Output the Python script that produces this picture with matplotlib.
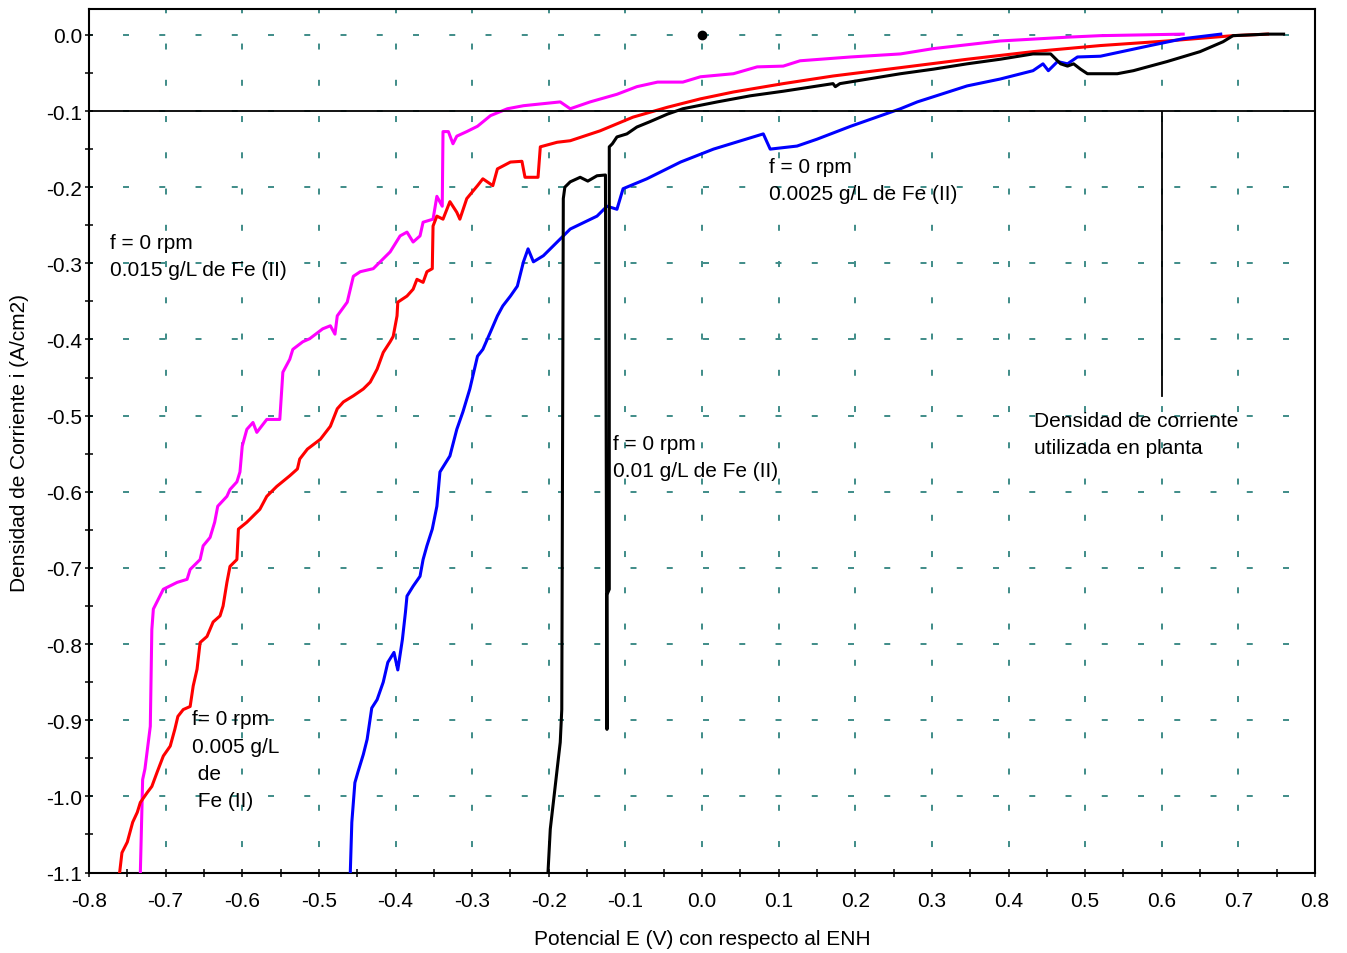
import matplotlib
matplotlib.use("Agg")
import matplotlib.pyplot as plt
from matplotlib.ticker import MultipleLocator, FormatStrFormatter

plt.rcParams['font.family'] = ['Liberation Sans', 'DejaVu Sans']
plt.rcParams['axes.unicode_minus'] = False
plt.rcParams['lines.scale_dashes'] = False

# ---------------- data (E in V vs ENH, i in A/cm2) ----------------
magenta_E = [-0.733, -0.730, -0.727, -0.720, -0.718, -0.716, -0.703, -0.685, -0.672, -0.668,
             -0.655, -0.651, -0.642, -0.636, -0.632, -0.620, -0.616, -0.607, -0.603, -0.600,
             -0.594, -0.586, -0.581, -0.568, -0.551, -0.547, -0.538, -0.534, -0.521, -0.512,
             -0.495, -0.485, -0.479, -0.476, -0.463, -0.455, -0.446, -0.429, -0.420, -0.407,
             -0.394, -0.385, -0.377, -0.368, -0.364, -0.351, -0.346, -0.339, -0.338, -0.331,
             -0.325, -0.320, -0.307, -0.293, -0.276, -0.254, -0.233, -0.185, -0.172, -0.146,
             -0.111, -0.085, -0.058, -0.025, -0.002, 0.041, 0.072, 0.106, 0.128, 0.194,
             0.259, 0.302, 0.389, 0.477, 0.520, 0.628]
magenta_i = [-1.100, -0.978, -0.964, -0.908, -0.781, -0.754, -0.728, -0.719, -0.715, -0.702,
             -0.689, -0.671, -0.660, -0.640, -0.619, -0.606, -0.597, -0.587, -0.574, -0.540,
             -0.518, -0.509, -0.522, -0.505, -0.505, -0.443, -0.426, -0.413, -0.403, -0.399,
             -0.386, -0.382, -0.393, -0.369, -0.351, -0.317, -0.311, -0.307, -0.298, -0.285,
             -0.264, -0.259, -0.272, -0.264, -0.246, -0.242, -0.212, -0.225, -0.127, -0.127,
             -0.143, -0.133, -0.127, -0.120, -0.106, -0.097, -0.093, -0.088, -0.097, -0.088,
             -0.078, -0.068, -0.062, -0.062, -0.055, -0.051, -0.042, -0.041, -0.034, -0.029,
             -0.025, -0.018, -0.008, -0.003, -0.001, 0.001]

red_E = [-0.760, -0.757, -0.750, -0.743, -0.737, -0.733, -0.724, -0.718, -0.711, -0.703,
         -0.694, -0.688, -0.684, -0.677, -0.668, -0.664, -0.659, -0.655, -0.646, -0.638,
         -0.629, -0.625, -0.620, -0.616, -0.607, -0.605, -0.594, -0.586, -0.577, -0.568,
         -0.555, -0.538, -0.528, -0.525, -0.515, -0.498, -0.485, -0.476, -0.468, -0.455,
         -0.442, -0.433, -0.424, -0.416, -0.407, -0.403, -0.398, -0.397, -0.385, -0.377,
         -0.372, -0.364, -0.359, -0.352, -0.351, -0.346, -0.338, -0.329, -0.320, -0.316,
         -0.307, -0.293, -0.286, -0.273, -0.267, -0.250, -0.235, -0.231, -0.214, -0.211,
         -0.189, -0.172, -0.133, -0.090, -0.045, -0.002, 0.041, 0.106, 0.171, 0.259,
         0.346, 0.432, 0.520, 0.607, 0.693, 0.738]
red_i = [-1.100, -1.074, -1.060, -1.034, -1.021, -1.008, -0.995, -0.987, -0.968, -0.947,
         -0.934, -0.912, -0.895, -0.886, -0.882, -0.855, -0.833, -0.798, -0.790, -0.771,
         -0.763, -0.750, -0.719, -0.698, -0.689, -0.649, -0.640, -0.632, -0.623, -0.606,
         -0.593, -0.579, -0.570, -0.557, -0.544, -0.531, -0.514, -0.491, -0.482, -0.474,
         -0.465, -0.456, -0.439, -0.417, -0.403, -0.396, -0.369, -0.351, -0.343, -0.334,
         -0.321, -0.325, -0.311, -0.307, -0.251, -0.238, -0.242, -0.219, -0.233, -0.242,
         -0.215, -0.198, -0.189, -0.198, -0.176, -0.167, -0.166, -0.187, -0.187, -0.147,
         -0.141, -0.139, -0.126, -0.108, -0.095, -0.084, -0.075, -0.064, -0.054, -0.043,
         -0.032, -0.022, -0.014, -0.008, -0.001, 0.001]

blue_E = [-0.459, -0.457, -0.453, -0.449, -0.442, -0.437, -0.431, -0.424, -0.416, -0.410,
          -0.402, -0.397, -0.391, -0.387, -0.385, -0.377, -0.368, -0.364, -0.359, -0.352,
          -0.346, -0.342, -0.329, -0.320, -0.312, -0.303, -0.293, -0.286, -0.276, -0.267,
          -0.260, -0.250, -0.241, -0.233, -0.227, -0.220, -0.207, -0.189, -0.172, -0.137,
          -0.124, -0.111, -0.103, -0.072, -0.028, 0.015, 0.080, 0.089, 0.124, 0.150,
          0.194, 0.259, 0.281, 0.346, 0.389, 0.432, 0.445, 0.452, 0.464, 0.477,
          0.490, 0.520, 0.585, 0.628, 0.677]
blue_i = [-1.100, -1.034, -0.982, -0.968, -0.945, -0.925, -0.884, -0.873, -0.850, -0.824,
          -0.811, -0.834, -0.794, -0.758, -0.737, -0.724, -0.711, -0.689, -0.671, -0.649,
          -0.619, -0.574, -0.553, -0.518, -0.495, -0.465, -0.422, -0.413, -0.390, -0.369,
          -0.356, -0.343, -0.330, -0.298, -0.281, -0.298, -0.290, -0.272, -0.255, -0.238,
          -0.225, -0.229, -0.202, -0.189, -0.167, -0.150, -0.130, -0.150, -0.146, -0.137,
          -0.120, -0.097, -0.088, -0.067, -0.058, -0.047, -0.038, -0.047, -0.035, -0.038,
          -0.029, -0.028, -0.014, -0.005, 0.001]

black_E = [-0.201, -0.198, -0.194, -0.189, -0.185, -0.183, -0.181, -0.179, -0.172, -0.159,
           -0.149, -0.137, -0.126, -0.124, -0.124, -0.121, -0.121, -0.117, -0.111, -0.098,
           -0.085, -0.068, -0.045, -0.025, 0.020, 0.063, 0.106, 0.171, 0.174, 0.180,
           0.259, 0.302, 0.346, 0.389, 0.432, 0.455, 0.459, 0.468, 0.477, 0.485,
           0.494, 0.503, 0.542, 0.563, 0.607, 0.650, 0.680, 0.693, 0.738, 0.759]
black_i = [-1.100, -1.043, -1.008, -0.964, -0.929, -0.886, -0.215, -0.200, -0.193, -0.187,
           -0.192, -0.185, -0.184, -0.912, -0.735, -0.728, -0.147, -0.143, -0.134, -0.130,
           -0.121, -0.114, -0.104, -0.097, -0.088, -0.080, -0.074, -0.064, -0.068, -0.064,
           -0.051, -0.045, -0.038, -0.032, -0.025, -0.025, -0.029, -0.038, -0.041, -0.038,
           -0.045, -0.051, -0.051, -0.047, -0.035, -0.022, -0.009, -0.001, 0.001, 0.001]

plant_current = -0.1          # horizontal reference line
plant_marker_E = 0.6          # vertical marker line
plant_marker_i = [-0.101, -0.474]
dot_E, dot_i = 0.0, 0.0

labels = [
    (-0.7726, -0.2904, "f = 0 rpm\n0.015 g/L de Fe (II)"),
    (-0.6655, -0.952, "f= 0 rpm\n0.005 g/L\n de\n Fe (II)"),
    (-0.116, -0.5545, "f = 0 rpm\n0.01 g/L de Fe (II)"),
    (0.0875, -0.1905, "f = 0 rpm\n0.0025 g/L de Fe (II)"),
    (0.4337, -0.524, "Densidad de corriente\nutilizada en planta"),
]

# ---------------- figure ----------------
fig = plt.figure(figsize=(13.47, 9.54), dpi=100)
ax = fig.add_axes([89/1347, 1 - 873.5/954, (1315-89)/1347, (873.5-10)/954])

ax.set_xlim(-0.8, 0.8)
ax.set_ylim(-1.1, 0.034)

gcol = '#3f8c88'
ax.xaxis.grid(True, which='major', color=gcol, linewidth=1.4, linestyle=(7.4, (4.3, 21.8)))
ax.yaxis.grid(True, which='major', color=gcol, linewidth=1.4, linestyle=(1.6, (4.3, 21.8)))
ax.set_axisbelow(True)

lw = 2.2
ax.plot(magenta_E, magenta_i, color='#ff00ff', lw=lw, zorder=3)
ax.plot(red_E, red_i, color='#ff0000', lw=lw, zorder=3)
ax.plot(blue_E, blue_i, color='#0000ff', lw=lw, zorder=3)
ax.plot(black_E, black_i, color='black', lw=lw, zorder=4)

ax.axhline(plant_current, color='black', lw=1.3, zorder=5)
ax.plot([plant_marker_E, plant_marker_E], plant_marker_i, color='black', lw=1.3, zorder=5)
ax.plot([dot_E], [dot_i], 'o', color='black', markersize=6, zorder=6)

for x, y, t in labels:
    ax.text(x, y, t, ha='left', va='center', fontsize=15, linespacing=1.56, zorder=7)

ax.xaxis.set_major_locator(MultipleLocator(0.1))
ax.xaxis.set_minor_locator(MultipleLocator(0.05))
ax.yaxis.set_major_locator(MultipleLocator(0.1))
ax.yaxis.set_minor_locator(MultipleLocator(0.05))
ax.xaxis.set_major_formatter(FormatStrFormatter('%.1f'))
ax.yaxis.set_major_formatter(FormatStrFormatter('%.1f'))

ax.tick_params(which='both', direction='inout', length=6, width=1.1, top=False, right=False)
ax.tick_params(axis='x', which='major', labelsize=15, pad=10)
ax.tick_params(axis='y', which='major', labelsize=15, pad=2)

for s in ax.spines.values():
    s.set_linewidth(1.5)

ax.set_xlabel("Potencial E (V) con respecto al ENH", fontsize=15)
ax.set_ylabel("Densidad de Corriente i (A/cm2)", fontsize=15)
ax.xaxis.label.set_va('center')
ax.xaxis.set_label_coords(0.5, -0.077)
ax.yaxis.label.set_va('center')
ax.yaxis.set_label_coords(-0.0563, 0.4986)

fig.savefig("out.png", dpi=100)
